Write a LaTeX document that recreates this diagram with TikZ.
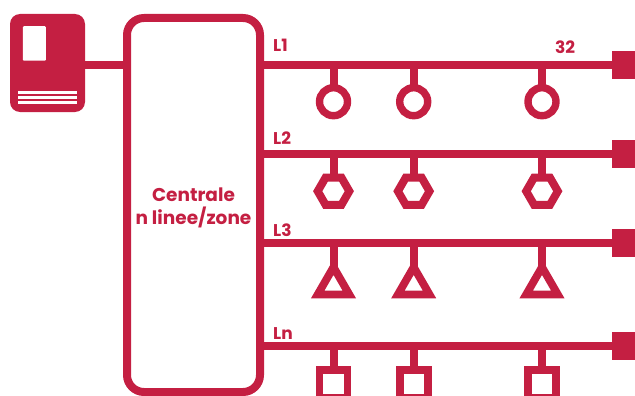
\documentclass[tikz,border=0pt]{standalone}
\usepackage{fontspec}
\setmainfont{Poppins}
\usetikzlibrary{shapes.geometric}
\definecolor{brand}{HTML}{C41F42}
\tikzset{
  wire/.style={draw=brand,line width=8pt},
  device/.style={draw=brand,fill=white,inner sep=0pt,outer sep=0pt},
  ringdev/.style={device,circle,line width=7.4pt,minimum size=28pt},
  hexdev/.style={device,regular polygon,regular polygon sides=6,line width=8pt,minimum size=31.6pt},
  tridev/.style={device,regular polygon,regular polygon sides=3,line width=7.8pt,minimum size=36.4pt},
  sqdev/.style={device,rectangle,line width=7.7pt,minimum size=28pt},
  endcap/.style={fill=brand,inner sep=0pt,outer sep=0pt,minimum width=23pt,minimum height=28pt},
  lab/.style={text=brand,font=\bfseries\fontsize{17}{19}\selectfont,anchor=base west,inner sep=0pt},
  hole/.style={fill=white,inner sep=0pt,outer sep=0pt},
}
\begin{document}
\begin{tikzpicture}[x=1pt,y=-1pt]
\useasboundingbox (0,0) rectangle (635,396);
% bus ends
\node[endcap] (e1) at (623.5,65) {};
\node[endcap] (e2) at (623.5,154) {};
\node[endcap] (e3) at (623.5,243) {};
\node[endcap] (e4) at (623.5,346) {};
% panel
\node[fill=brand,rounded corners=10pt,minimum width=75pt,minimum height=98pt,inner sep=0pt,outer sep=0pt] (panel) at (47.5,63) {};
\node[hole,rounded corners=1pt,minimum width=23pt,minimum height=34.5pt] (win) at (34.4,43.5) {};
\node[hole,minimum width=59pt,minimum height=3.2pt] (s1) at (47.5,92.3) {};
\node[hole,minimum width=59pt,minimum height=2.8pt] (s2) at (47.5,97.4) {};
\node[hole,minimum width=59pt,minimum height=3pt] (s3) at (47.5,102.2) {};
% central unit
\node[draw=brand,line width=8pt,rounded corners=17pt,minimum width=133pt,minimum height=374pt,inner sep=0pt,outer sep=0pt] (central) at (193.5,205) {};
\node[align=center,text=brand,inner sep=0pt,font=\bfseries\fontsize{18.5}{23}\selectfont] (ctext) at (193.5,207.5) {Centrale\\n linee/zone};
% connectors
\draw[wire] (panel.east |- e1) -- (central.west |- e1);
\foreach \n in {1,2,3,4} \draw[wire] (central.east |- e\n) -- (e\n);
% devices
\foreach \i/\x in {a/333.5,b/413.7,c/542}{
  \node[ringdev] (r\i) at (\x,101.7) {};
  \node[hexdev] (h\i) at (\x,191.2) {};
  \node[tridev] (t\i) at (\x,285.3) {};
  \node[sqdev] (q\i) at (\x,384) {};
  \coordinate (pr\i) at (\x,65);
  \coordinate (ph\i) at (\x,154);
  \coordinate (pt\i) at (\x,243);
  \coordinate (pq\i) at (\x,346);
  \draw[wire] (pr\i) -- (r\i.north);
  \draw[wire] (ph\i) -- (h\i.north);
  \draw[wire] (pt\i) -- (t\i.north);
  \draw[wire] (pq\i) -- (q\i.north);
}
% labels
\node[lab] (l1) at (273,52) {L1};
\node[lab] (l2) at (273,144) {L2};
\node[lab] (l3) at (273,236) {L3};
\node[lab] (l4) at (273,339.5) {Ln};
\node[lab] (n32) at (555,54) {32};
\end{tikzpicture}
\end{document}
